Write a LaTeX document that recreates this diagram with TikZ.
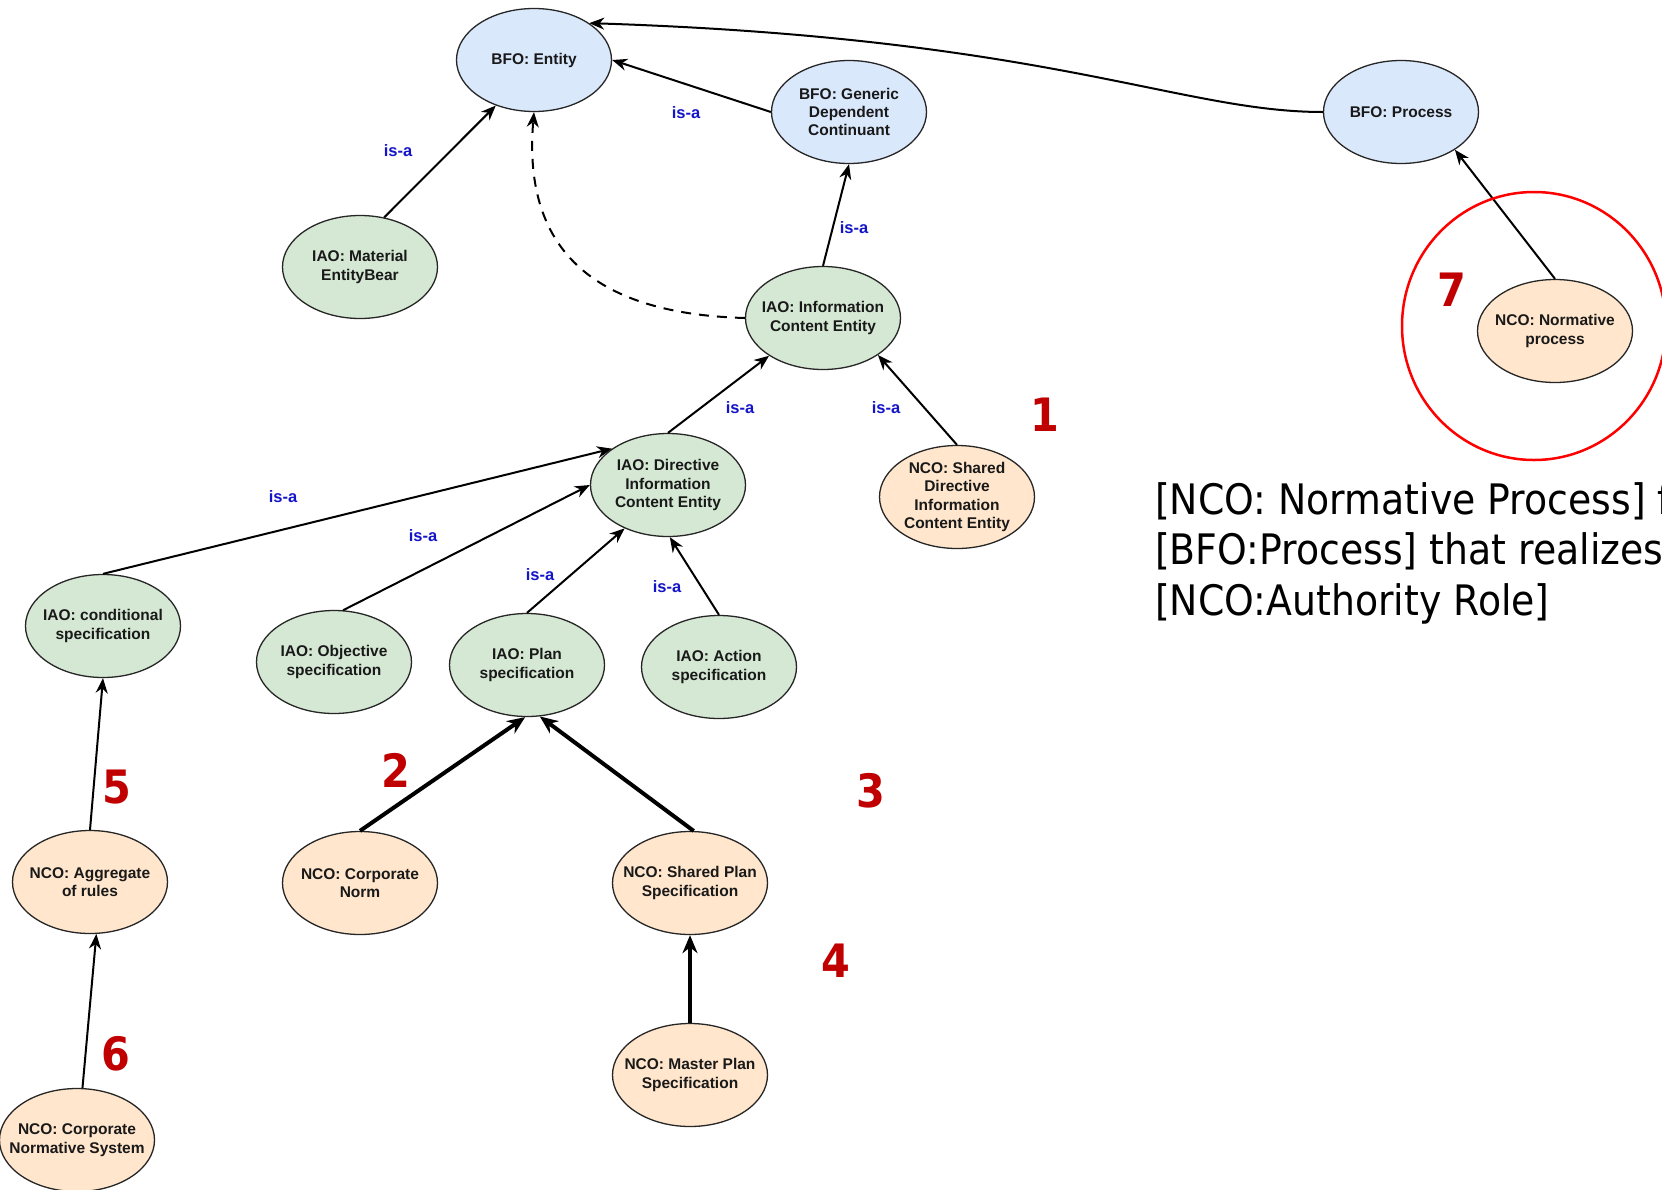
\documentclass[tikz,border=0pt]{standalone}
\usepackage{fontspec}
\setmainfont{Liberation Sans}
\newfontfamily\notefont[FakeStretch=0.9]{DejaVu Sans}
\usetikzlibrary{arrows.meta,shapes.geometric}
\definecolor{bfofill}{HTML}{DAE8FC}
\definecolor{iaofill}{HTML}{D5E8D4}
\definecolor{ncofill}{HTML}{FFE6CC}
\definecolor{isablue}{HTML}{1414C8}
\definecolor{numred}{HTML}{C00000}
\definecolor{ringred}{HTML}{FF0000}
\begin{document}
\begin{tikzpicture}[x=1pt,y=-1pt,
  cls/.style={ellipse, draw=black!85, line width=1.3pt,
    minimum width=155pt, minimum height=103pt,
    inner xsep=-30pt, inner ysep=-20pt, align=center,
    font=\fontsize{15.5}{18.4}\selectfont\bfseries, text=black!90},
  bfo/.style={cls, fill=bfofill},
  iao/.style={cls, fill=iaofill},
  nco/.style={cls, fill=ncofill},
  isa/.style={-{Stealth[length=15pt,width=12pt]}, line width=2pt},
  strong/.style={-{Stealth[length=18pt,width=15pt]}, line width=4pt},
  lbl/.style={font=\fontsize{16.5}{18}\selectfont\bfseries, text=isablue, inner sep=0pt},
  num/.style={font=\notefont\bfseries\fontsize{46}{46}\selectfont, text=numred, inner sep=0pt},
  note/.style={font=\notefont\fontsize{42}{50}\selectfont, anchor=base west, inner sep=0pt},
]
\clip (0,0) rectangle (1662,1189);
\fill[white] (0,0) rectangle (1662,1189);

% upper ontology (BFO)
\node[bfo] (ent)  at (534,60)   {BFO: Entity};
\node[bfo] (gen)  at (849,112)  {BFO: Generic\\Dependent\\Continuant};
\node[bfo] (proc) at (1401,112) {BFO: Process};

% information artifacts (IAO)
\node[iao] (mat)  at (360,267) {IAO: Material\\EntityBear};
\node[iao] (ice)  at (823,318) {IAO: Information\\Content Entity};
\node[iao] (dir)  at (668,485) {IAO: Directive\\Information\\Content Entity};
\node[iao] (cond) at (103,626) {IAO: conditional\\specification};
\node[iao] (obj)  at (334,662) {IAO: Objective\\specification};
\node[iao] (plan) at (527,665) {IAO: Plan\\specification};
\node[iao] (act)  at (719,667) {IAO: Action\\specification};

% normative classes (NCO)
\node[nco] (np)     at (1555,331) {NCO: Normative\\process};
\node[nco] (sdir)   at (957,497)  {NCO: Shared\\Directive\\Information\\Content Entity};
\node[nco] (agg)    at (90,882)   {NCO: Aggregate\\of rules};
\node[nco] (cnorm)  at (360,883)  {NCO: Corporate\\Norm};
\node[nco] (splan)  at (690,883)  {NCO: Shared Plan\\Specification};
\node[nco] (master) at (690,1075) {NCO: Master Plan\\Specification};
\node[nco] (cns)    at (77,1140)  {NCO: Corporate\\Normative System};

% subclass links
\draw[isa] (mat.64) -- (ent.230);
\draw[isa] (gen.west) -- (ent.east);
\draw[isa] (proc.west) .. controls (1180,112) and (1050,38) .. (ent.north east);
\draw[isa, dashed, dash pattern=on 10pt off 8pt] (ice.west) .. controls (600,314) and (522,255) .. (ent.south);
\draw[isa] (ice.north) -- (gen.south);
\draw[isa] (dir.north) -- (ice.215);
\draw[isa] (sdir.north) -- (ice.-34);
\draw[isa] (cond.north) -- (dir.147);
\draw[isa] (obj.80) -- (dir.west);
\draw[isa] (plan.north) -- (dir.225);
\draw[isa] (act.north) -- (dir.-88);
\draw[strong] (cnorm.north) -- (plan.-92);
\draw[strong] (splan.86) -- (plan.-76);
\draw[strong] (master.north) -- (splan.south);
\draw[isa] (agg.north) -- (cond.south);
\draw[isa] (cns.84) -- (agg.-83);
\draw[isa] (np.north) -- (proc.-35);

% link labels
\node[lbl] (l1) at (686,113) {is-a};
\node[lbl] (l2) at (398,151) {is-a};
\node[lbl] (l3) at (854,228) {is-a};
\node[lbl] (l4) at (740,408) {is-a};
\node[lbl] (l5) at (886,408) {is-a};
\node[lbl] (l6) at (283,497) {is-a};
\node[lbl] (l7) at (423,536) {is-a};
\node[lbl] (l8) at (540,575) {is-a};
\node[lbl] (l9) at (667,587) {is-a};

% numbered callouts
\node[num] (n1) at (1045,415) {1};
\node[num] (n2) at (396,770) {2};
\node[num] (n3) at (871,791) {3};
\node[num] (n4) at (836,961) {4};
\node[num] (n5) at (117,787) {5};
\node[num] (n6) at (116,1054) {6};
\node[num] (n7) at (1452,290) {7};

% highlight ring around the normative process
\node[ellipse, draw=ringred, line width=2.5pt, minimum width=264pt,
      minimum height=268pt, inner sep=0pt] (ring) at (1534,326) {};

% definition text
\node[note] (d1) at (1155,514) {[NCO: Normative Process] f};
\node[note] (d2) at (1155,564) {[BFO:Process] that realizes};
\node[note] (d3) at (1155,615) {[NCO:Authority Role]};
\end{tikzpicture}
\end{document}
